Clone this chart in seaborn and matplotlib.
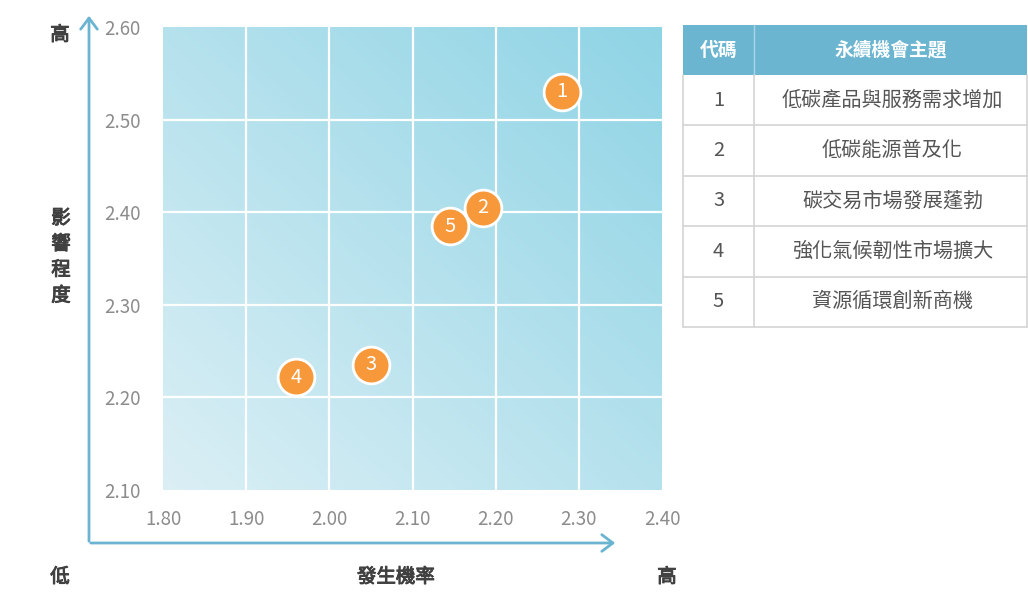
import matplotlib
matplotlib.use("Agg")
import matplotlib.pyplot as plt
import matplotlib.patheffects as pe
import numpy as np
import pandas as pd
import seaborn as sns
from matplotlib.patches import FancyArrowPatch, Rectangle
from matplotlib.colors import LinearSegmentedColormap

# 資料
codes = ["1", "2", "3", "4", "5"]
themes = ["低碳產品與服務需求增加", "低碳能源普及化", "碳交易市場發展蓬勃",
          "強化氣候韌性市場擴大", "資源循環創新商機"]
probability = [2.28, 2.185, 2.05, 1.96, 2.145]
impact = [2.53, 2.405, 2.235, 2.222, 2.385]
x_ticks = [1.80, 1.90, 2.00, 2.10, 2.20, 2.30, 2.40]
y_ticks = [2.10, 2.20, 2.30, 2.40, 2.50, 2.60]

df = pd.DataFrame({"代碼": codes, "發生機率": probability, "影響程度": impact})

sns.set_style("white")
plt.rcParams["font.family"] = ["Noto Sans CJK TC", "DejaVu Sans"]

W, H = 1028, 603
fig = plt.figure(figsize=(W / 100, H / 100), dpi=100)

def px_rect(l, t, r, b):
    return [l / W, 1 - b / H, (r - l) / W, (b - t) / H]

ax = fig.add_axes(px_rect(163, 27, 662, 490))

# 漸層背景
cmap = LinearSegmentedColormap.from_list("bg", ["#dbeff5", "#8fd4e5"])
gx, gy = np.meshgrid(np.linspace(0, 1, 200), np.linspace(0, 1, 200))
ax.imshow((gx + gy) / 2, cmap=cmap, origin="lower", aspect="auto",
          extent=[1.80, 2.40, 2.10, 2.60], zorder=0)

for v in x_ticks[1:-1]:
    ax.axvline(v, color="white", lw=1.6, zorder=1)
for v in y_ticks[1:-1]:
    ax.axhline(v, color="white", lw=1.6, zorder=1)

sns.scatterplot(data=df, x="發生機率", y="影響程度", ax=ax, s=700,
                color="#f7993a", edgecolor="white", linewidth=2, zorder=3,
                legend=False)
for c, xv, yv in zip(codes, probability, impact):
    ax.text(xv, yv, c, ha="center", va="center", color="white",
            fontsize=14.5, zorder=4)

ax.set_xlim(1.80, 2.40)
ax.set_ylim(2.10, 2.60)
ax.set_xticks(x_ticks)
ax.set_yticks(y_ticks)
ax.set_xticklabels([f"{v:.2f}" for v in x_ticks])
ax.set_yticklabels([f"{v:.2f}" for v in y_ticks])
ax.tick_params(length=0, labelsize=13.5, colors="#8c8c8c")
ax.tick_params(axis="x", pad=14)
ax.tick_params(axis="y", pad=16)
for lbl in ax.get_xticklabels() + ax.get_yticklabels():
    lbl.set_fontweight("light")
ax.set_xlabel("")
ax.set_ylabel("")
for s in ax.spines.values():
    s.set_visible(False)

# 軸箭頭
arrow_c = "#6ab4d2"
def fig_xy(x, y):
    return (x / W, 1 - y / H)

for start, end in [((89, 544), (89, 13)), ((88, 543), (618, 543))]:
    fig.add_artist(FancyArrowPatch(fig_xy(*start), fig_xy(*end),
                                   transform=fig.transFigure,
                                   arrowstyle="->,head_length=8,head_width=6",
                                   color=arrow_c, lw=2))

lab_c = "#404040"
lab = dict(color=lab_c, fontsize=14, ha="center", va="center",
           path_effects=[pe.withStroke(linewidth=0.7, foreground=lab_c)])
fig.text(*fig_xy(60, 35), "高", **lab)
fig.text(*fig_xy(60, 577), "低", **lab)
fig.text(*fig_xy(667, 577), "高", **lab)
fig.text(*fig_xy(396, 577), "發生機率", **lab)
fig.text(*fig_xy(61, 257), "影\n響\n程\n度", linespacing=1.3, **lab)

# 表格
tx = fig.add_axes([0, 0, 1, 1], zorder=5)
tx.set_xlim(0, W)
tx.set_ylim(H, 0)
tx.axis("off")
tx.patch.set_alpha(0)

left, mid, right = 683, 754, 1027
top, head_b, row_h = 25, 75, 50.4
tx.add_patch(Rectangle((left, top), right - left, head_b - top,
                       color="#6bb5d1", lw=0))
tx.plot([mid, mid], [top, head_b], color="#a9d4e4", lw=1)
tx.text((left + mid) / 2, (top + head_b) / 2, "代碼", color="white",
        fontsize=13.5, fontweight="bold", ha="center", va="center")
tx.text((mid + right) / 2, (top + head_b) / 2, "永續機會主題", color="white",
        fontsize=13.5, fontweight="bold", ha="center", va="center")

bottom = head_b + row_h * len(codes)
grid_c = "#d4d4d4"
for i, (c, t) in enumerate(zip(codes, themes)):
    y0 = head_b + i * row_h
    tx.plot([left, right], [y0 + row_h, y0 + row_h], color=grid_c, lw=1.2)
    tx.text((left + mid) / 2, y0 + row_h / 2, c, color="#555555",
            fontsize=14.5, fontweight="light", ha="center", va="center")
    tx.text((mid + right) / 2 + 2, y0 + row_h / 2, t, color="#555555",
            fontsize=14.5, fontweight="light", ha="center", va="center")
tx.plot([left, left], [head_b, bottom], color=grid_c, lw=1.2)
tx.plot([right, right], [head_b, bottom], color=grid_c, lw=1.2)
tx.plot([mid, mid], [head_b, bottom], color=grid_c, lw=1.2)

fig.savefig("out.png", dpi=100)
